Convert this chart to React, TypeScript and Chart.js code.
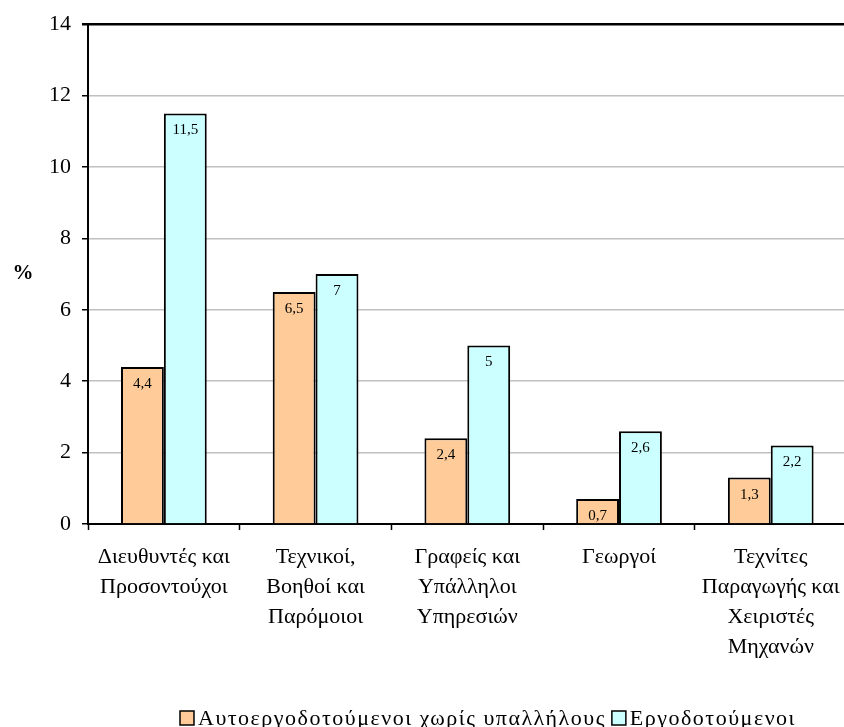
import React, { useEffect, useRef } from "react";
import { Chart, registerables } from "chart.js";

Chart.register(...registerables);

const categories: string[][] = [
  ["Διευθυντές και", "Προσοντούχοι"],
  ["Τεχνικοί,", "Βοηθοί και", "Παρόμοιοι"],
  ["Γραφείς και", "Υπάλληλοι", "Υπηρεσιών"],
  ["Γεωργοί"],
  ["Τεχνίτες", "Παραγωγής και", "Χειριστές", "Μηχανών"],
];
const selfEmployed: number[] = [4.4, 6.5, 2.4, 0.7, 1.3];
const employers: number[] = [11.5, 7, 5, 2.6, 2.2];
const seriesNames: string[] = ["Αυτοεργοδοτούμενοι χωρίς υπαλλήλους", "Εργοδοτούμενοι"];
const yTitle = "%";

const FONT = '"Liberation Serif", "Times New Roman", serif';

const labelsPlugin = {
  id: "customDraw",
  afterDatasetsDraw(chart: any) {
    const ctx = chart.ctx;
    ctx.save();
    ctx.fillStyle = "#000";
    ctx.font = `15px ${FONT}`;
    ctx.textAlign = "center";
    ctx.textBaseline = "middle";
    chart.data.datasets.forEach((ds: any, i: number) => {
      const meta = chart.getDatasetMeta(i);
      meta.data.forEach((bar: any, j: number) => {
        const v = ds.data[j];
        ctx.fillText(String(v).replace(".", ","), bar.x, bar.y + 17);
      });
    });
    ctx.restore();
  },
  afterDraw(chart: any) {
    const ctx = chart.ctx;
    ctx.save();
    ctx.fillStyle = "#000";
    ctx.font = `bold 21px ${FONT}`;
    ctx.textAlign = "center";
    ctx.textBaseline = "middle";
    ctx.fillText(yTitle, 23, 274);
    // legend
    ctx.font = `22px ${FONT}`;
    (ctx as any).letterSpacing = "1.5px";
    const box = 14;
    const gapBoxText = 4;
    const gapItems = 6;
    const widths = chart.data.datasets.map((d: any) => ctx.measureText(d.label).width);
    let total = 0;
    widths.forEach((w: number, i: number) => {
      total += box + gapBoxText + w + (i > 0 ? gapItems : 0);
    });
    let x = 488 - total / 2;
    const cy = 718;
    ctx.textAlign = "left";
    chart.data.datasets.forEach((d: any, i: number) => {
      if (i > 0) x += gapItems;
      ctx.fillStyle = d.backgroundColor;
      ctx.fillRect(x, cy - box / 2, box, box);
      ctx.strokeStyle = "#000";
      ctx.lineWidth = 1.5;
      ctx.strokeRect(x, cy - box / 2, box, box);
      x += box + gapBoxText;
      ctx.fillStyle = "#000";
      ctx.fillText(d.label, x, cy + 1);
      x += widths[i];
    });
    ctx.restore();
  },
};

export default function App() {
  const ref = useRef<HTMLCanvasElement | null>(null);
  useEffect(() => {
    if (!ref.current) return;
    const chart = new Chart(ref.current, {
      type: "bar",
      data: {
        labels: categories,
        datasets: [
          {
            label: seriesNames[0],
            data: selfEmployed,
            backgroundColor: "#FFCC99",
            borderColor: "#000",
            borderWidth: 2,
          },
          {
            label: seriesNames[1],
            data: employers,
            backgroundColor: "#CCFFFF",
            borderColor: "#000",
            borderWidth: 2,
          },
        ],
      },
      options: {
        animation: false,
        responsive: false,
        maintainAspectRatio: false,
        datasets: { bar: { categoryPercentage: 0.565, barPercentage: 1 } },
        layout: { padding: { left: 0, right: 3, top: 24, bottom: 0 } },
        plugins: {
          legend: { display: false },
          tooltip: { enabled: false },
        },
        scales: {
          x: {
            afterFit: (s: any) => {
              s.height = 203;
            },
            grid: {
              drawOnChartArea: false,
              tickLength: 6,
              tickColor: "#000",
              tickWidth: 1.5,
              offset: true,
            },
            border: { display: true, color: "#000", width: 2 },
            ticks: {
              color: "#000",
              font: { family: FONT, size: 22, lineHeight: 1.36 },
              padding: 12,
              maxRotation: 0,
              autoSkip: false,
            },
          },
          y: {
            min: 0,
            max: 14,
            afterFit: (s: any) => {
              s.width = 88;
            },
            ticks: {
              stepSize: 2,
              color: "#000",
              font: { family: FONT, size: 22 },
              padding: 11,
            },
            grid: {
              tickLength: 6,
              tickColor: "#000",
              color: (c: any) => (c.tick && c.tick.value === 14 ? "#000" : "#C0C0C0"),
              lineWidth: (c: any) => (c.tick && c.tick.value === 14 ? 2.5 : 1.5),
            },
            border: { display: true, color: "#000", width: 2 },
          },
        },
      },
      plugins: [labelsPlugin],
    });
    return () => chart.destroy();
  }, []);
  return (
    <div
      style={{
        position: "absolute",
        left: 0,
        top: 0,
        width: 844,
        height: 727,
        overflow: "hidden",
        background: "#fff",
      }}
    >
      <canvas ref={ref} width={852} height={727} style={{ display: "block" }} />
    </div>
  );
}
